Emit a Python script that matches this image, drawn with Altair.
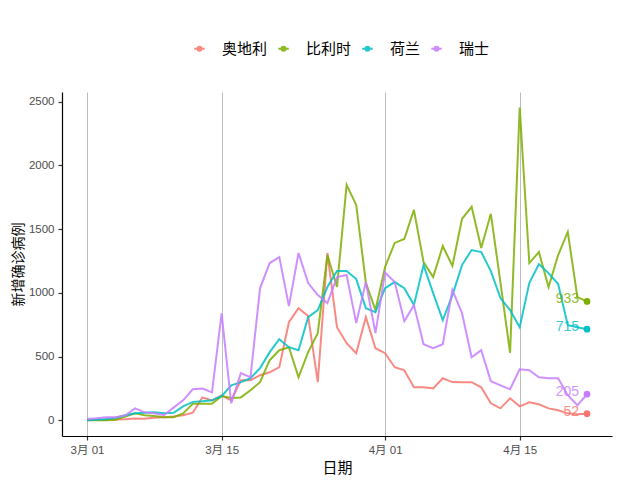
import altair as alt
import pandas as pd

start_date = "2020-03-01"
end_date = "2020-04-22"
countries = ["奥地利", "比利时", "荷兰", "瑞士"]
colors = ["#F8766D", "#7CAE00", "#00BFC4", "#C77CFF"]

austria = [3, 4, 2, 6, 8, 14, 12, 20, 25, 30, 40, 60, 180, 157, 196, 157, 314, 314, 354, 377,
           417, 770, 880, 818, 300, 1313, 731, 605, 527, 810, 566, 527, 417, 393, 259, 259, 251,
           330, 300, 299, 299, 259, 134, 94, 173, 110, 141, 126, 94, 79, 55, 47, 52]
belgium = [0, 0, 1, 5, 30, 55, 40, 35, 24, 24, 55, 130, 130, 130, 190, 175, 180, 236, 299, 472,
           550, 574, 338, 535, 684, 1297, 1046, 1847, 1690, 1080, 865, 1203, 1392, 1423, 1651, 1242,
           1124, 1368, 1211, 1580, 1675, 1352, 1620, 1080, 530, 2453, 1234, 1320, 1046, 1297, 1478,
           967, 933]
netherlands = [0, 5, 10, 20, 40, 55, 60, 63, 55, 60, 110, 145, 150, 157, 190, 275, 300, 330, 410,
               535, 637, 574, 550, 810, 865, 1046, 1171, 1171, 1108, 880, 849, 1037, 1085, 1037, 904,
               1218, 998, 786, 980, 1218, 1336, 1320, 1171, 959, 865, 731, 1077, 1226, 1155, 1069,
               747, 731, 715]
switzerland = [10, 16, 24, 24, 40, 94, 63, 55, 40, 100, 157, 244, 250, 220, 840, 134, 370, 338, 1038,
               1234, 1281, 896, 1313, 1077, 983, 920, 1124, 1140, 763, 1085, 684, 1160, 1085, 778, 904,
               597, 566, 597, 1022, 841, 495, 550, 307, 275, 244, 400, 393, 338, 330, 330, 197, 118, 205]

tick_dates = [(3, 1), (3, 15), (4, 1), (4, 15)]
y_ticks = [0, 500, 1000, 1500, 2000, 2500]

dates = pd.date_range(start_date, end_date, freq="D").strftime("%Y-%m-%d").tolist()
series = [austria, belgium, netherlands, switzerland]
rows = []
for name, vals in zip(countries, series):
    for d, v in zip(dates, vals):
        rows.append({"date": d, "country": name, "value": v})
df = pd.DataFrame(rows)
last_df = pd.DataFrame({"date": [dates[-1]] * 4, "country": countries,
                        "value": [s[-1] for s in series]})

x_scale = alt.Scale(type="utc", domain=[
    alt.DateTime(year=2020, month=2, date=27, hours=9, minutes=36, utc=True),
    alt.DateTime(year=2020, month=4, date=24, hours=14, minutes=24, utc=True)])
y_scale = alt.Scale(domain=[-122.7, 2575.7], nice=False, zero=False)
color_scale = alt.Scale(domain=countries, range=colors)

lab_font = "Liberation Sans, Noto Sans CJK SC"
cjk_font = "Noto Sans CJK SC"

x_enc = alt.X("date:T", scale=x_scale, title="日期",
              axis=alt.Axis(values=[alt.DateTime(year=2020, month=m, date=d, utc=True) for m, d in tick_dates],
                            labelExpr="utcFormat(datum.value, '%-m月 %d')",
                            grid=True, gridColor="#BEBEBE", gridWidth=1))
y_enc = alt.Y("value:Q", scale=y_scale, title="新增确诊病例",
              axis=alt.Axis(values=y_ticks, grid=False, format="d", titleFontSize=14, titlePadding=3))

legend = alt.Legend(
    title=None, orient="none", direction="horizontal", legendX=130, legendY=-51,
    symbolType="M-1,0H1M0.38,0A0.38,0.38,0,1,1,-0.38,0A0.38,0.38,0,1,1,0.38,0",
    symbolSize=110, symbolStrokeWidth=2, labelFontSize=15, labelFont=cjk_font,
    labelColor="#000000", columnPadding=6, labelOffset=15)
stroke_enc = alt.Stroke("country:N", scale=color_scale, legend=legend, sort=countries)
fill_enc = alt.Fill("country:N", scale=color_scale, legend=legend, sort=countries)

lines = alt.Chart(df).mark_line(strokeWidth=2, opacity=0.85).encode(
    x=x_enc, y=y_enc, stroke=stroke_enc)
points = alt.Chart(last_df).mark_point(filled=True, size=45, opacity=1).encode(
    x=x_enc, y=y_enc, fill=fill_enc)
texts = alt.Chart(last_df).mark_text(align="right", baseline="middle", dx=-8, dy=-2,
                                     fontSize=14, font=lab_font, opacity=0.8).encode(
    x=x_enc, y=y_enc, fill=fill_enc, text=alt.Text("value:Q"))

chart = alt.layer(lines, points, texts).properties(
    width=550, height=344,
    autosize=alt.AutoSizeParams(type="none"),
    padding={"left": 54, "top": 84, "right": 20, "bottom": 40},
    background="white",
).configure_view(stroke=None).configure_axis(
    domainColor="#000000", domainWidth=1.2, tickColor="#333333", tickSize=4, tickWidth=1.2,
    labelColor="#4D4D4D", labelFontSize=11.5, labelFont=lab_font,
    titleFont=cjk_font, titleFontSize=15, titleFontWeight="normal", titleColor="#000000",
).configure_axisX(labelPadding=4, titlePadding=5).configure_axisY(labelPadding=4)

chart.save("out.html", embed_options={"renderer": "svg", "actions": False})
